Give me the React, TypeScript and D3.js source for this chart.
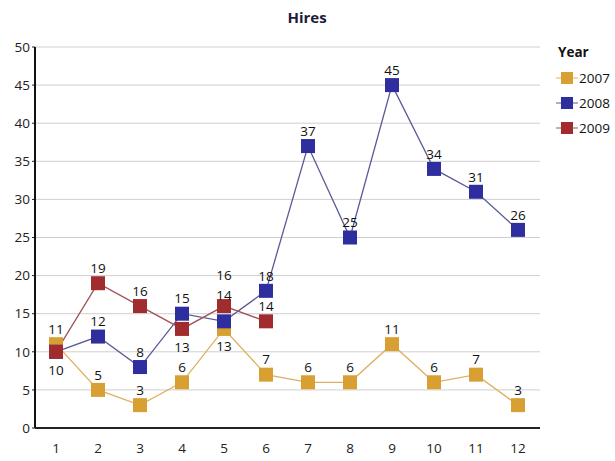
import React from "react";
import * as d3 from "d3";

const months = [1, 2, 3, 4, 5, 6, 7, 8, 9, 10, 11, 12];
const hires2007 = [11, 5, 3, 6, 13, 7, 6, 6, 11, 6, 7, 3];
const hires2008 = [10, 12, 8, 15, 14, 18, 37, 25, 45, 34, 31, 26];
const hires2009 = [10, 19, 16, 13, 16, 14];
const yTicks = [0, 5, 10, 15, 20, 25, 30, 35, 40, 45, 50];

const seriesNames = ["2007", "2008", "2009"];
const seriesValues = [hires2007, hires2008, hires2009];
const markerColors = ["#D8A032", "#2E2E9E", "#A02C30"];
const lineColors = ["#DDB060", "#5A5A98", "#A05458"];

// Label placement: value labels sit above the marker unless listed here
const labelShift: Record<string, number> = {
  "2008-0": 18,
  "2009-0": 18,
  "2009-3": 18,
  "2007-4": 17,
  "2009-4": -31,
  "2008-4": -26,
};

const W = 615;
const H = 461;
const margin = { left: 35, right: 75, top: 47, bottom: 33 };

export default function App() {
  const x = d3
    .scalePoint<number>()
    .domain(months)
    .range([56, 518]);
  const y = d3
    .scaleLinear()
    .domain([0, 50])
    .range([H - margin.bottom, margin.top]);
  const line = d3
    .line<number>()
    .x((_, i) => x(months[i]) as number)
    .y((d) => y(d));
  const font = "'Open Sans', 'DejaVu Sans', sans-serif";
  const plotRight = W - margin.right;

  // A value already labelled by an earlier series at the same month is not repeated
  const isDuplicate = (s: number, i: number) =>
    seriesValues.slice(0, s).some((vals) => vals[i] === seriesValues[s][i]);

  return (
    <svg
      width={W}
      height={H}
      style={{ position: "absolute", left: 0, top: 0, background: "#fff" }}
      fontFamily={font}
    >
      <text
        x={307}
        y={23}
        textAnchor="middle"
        fontWeight="bold"
        fontSize={15}
        fill="#1c1c38"
      >
        Hires
      </text>

      {yTicks.map((t) => (
        <g key={t}>
          {t > 0 && (
            <line
              x1={margin.left}
              x2={plotRight}
              y1={y(t)}
              y2={y(t)}
              stroke="#cfcfcf"
              strokeWidth={1}
            />
          )}
          <line
            x1={margin.left - 3}
            x2={margin.left}
            y1={y(t)}
            y2={y(t)}
            stroke="#222"
          />
          <text
            x={margin.left - 5}
            y={y(t)}
            dy="0.35em"
            textAnchor="end"
            fontSize={13.5}
            fill="#222"
          >
            {t}
          </text>
        </g>
      ))}

      <line
        x1={margin.left}
        x2={margin.left}
        y1={margin.top}
        y2={y(0)}
        stroke="#111"
        strokeWidth={2}
      />
      <line
        x1={margin.left}
        x2={plotRight}
        y1={y(0)}
        y2={y(0)}
        stroke="#222"
        strokeWidth={2}
      />

      {months.map((m) => (
        <text
          key={m}
          x={x(m) as number}
          y={y(0) + 20}
          dy="0.35em"
          textAnchor="middle"
          fontSize={13.5}
          fill="#222"
        >
          {m}
        </text>
      ))}

      {seriesValues.map((vals, s) => (
        <path
          key={"l" + s}
          d={line(vals) || ""}
          fill="none"
          stroke={lineColors[s]}
          strokeWidth={1.3}
        />
      ))}

      {seriesValues.map((vals, s) => (
        <g key={"m" + s}>
          {vals.map((v, i) => (
            <rect
              key={i}
              x={(x(months[i]) as number) - 7}
              y={y(v) - 7}
              width={14}
              height={14}
              fill={markerColors[s]}
            />
          ))}
        </g>
      ))}

      {seriesValues.map((vals, s) => (
        <g key={"t" + s}>
          {vals.map((v, i) => {
            if (isDuplicate(s, i)) return null;
            const shift = labelShift[seriesNames[s] + "-" + i] ?? -15;
            return (
              <text
                key={i}
                x={x(months[i]) as number}
                y={y(v) + shift}
                dy="0.35em"
                textAnchor="middle"
                fontSize={13.5}
                fill="#111"
              >
                {v}
              </text>
            );
          })}
        </g>
      ))}

      <text x={558} y={57} fontWeight="bold" fontSize={13.5} fill="#111">
        Year
      </text>
      {seriesNames.map((n, s) => (
        <g key={n} transform={`translate(567, ${78 + s * 25})`}>
          <line x1={-11} x2={11} y1={0} y2={0} stroke={lineColors[s]} />
          <rect x={-6} y={-6} width={12} height={12} fill={markerColors[s]} />
          <text x={12} y={0} dy="0.35em" fontSize={13.5} fill="#111">
            {n}
          </text>
        </g>
      ))}
    </svg>
  );
}
